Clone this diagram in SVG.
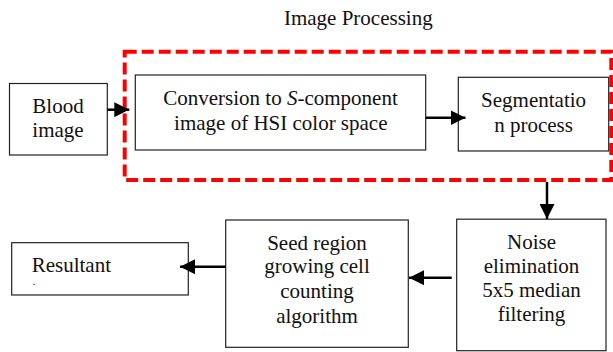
<svg xmlns="http://www.w3.org/2000/svg" width="613" height="352" viewBox="0 0 613 352">
<style>
.box{fill:#fff;stroke:#222;stroke-width:1.2}
.t{font-family:"Liberation Serif","Times New Roman",serif;font-size:21px;fill:#111;text-anchor:middle}
.c{stroke:#000;stroke-width:2.5;fill:none;marker-end:url(#ah)}
</style>
<defs>
<marker id="ah" markerUnits="userSpaceOnUse" markerWidth="15" markerHeight="15" refX="15" refY="7.5" orient="auto">
<path d="M0,0 L15,7.5 L0,15 z" fill="#000"/>
</marker>
</defs>
<rect width="613" height="352" fill="#fff"/>
<g id="group-image-processing">
<rect x="124.7" y="51.7" width="486.6" height="128.3" fill="none" stroke="#ff0000" stroke-width="4" stroke-dasharray="12 5"/>
<text class="t" x="358.3" y="25">Image Processing</text>
</g>
<g id="blood">
<rect class="box" x="9.5" y="83.5" width="97.8" height="71.5"/>
<text class="t" x="58" y="112.7">Blood</text>
<text class="t" x="58" y="136.7">image</text>
</g>
<g id="conversion">
<rect class="box" x="135.3" y="75" width="290.4" height="75"/>
<text class="t" x="280.5" y="105">Conversion to <tspan font-style="italic">S</tspan>-component</text>
<text class="t" x="280.8" y="130">image of HSI color space</text>
</g>
<g id="segmentation">
<rect class="box" x="458.3" y="77.3" width="150.4" height="73.7"/>
<text class="t" x="533.6" y="106.7">Segmentatio</text>
<text class="t" x="533.6" y="132.3">n process</text>
</g>
<g id="noise">
<rect class="box" x="456.7" y="219.2" width="149.3" height="131.5"/>
<text class="t" x="531.5" y="249.3">Noise</text>
<text class="t" x="531.5" y="273.3">elimination</text>
<text class="t" x="531.5" y="297.3">5x5 median</text>
<text class="t" x="531.5" y="320.7">filtering</text>
</g>
<g id="seed">
<rect class="box" x="225.7" y="220" width="182.6" height="127.3"/>
<text class="t" x="317" y="250">Seed region</text>
<text class="t" x="317" y="273.3">growing cell</text>
<text class="t" x="317" y="298.3">counting</text>
<text class="t" x="317" y="322.7">algorithm</text>
</g>
<g id="resultant">
<rect class="box" x="11.7" y="242.7" width="176.6" height="52.3"/>
<text class="t" x="31.7" y="271.7" style="text-anchor:start">Resultant</text>
<text class="t" x="33" y="284.5" style="text-anchor:start;font-size:8px;font-weight:bold">.</text>
</g>
<g id="connectors">
<line class="c" x1="107.3" y1="109.7" x2="129.3" y2="109.7"/>
<line class="c" x1="425.7" y1="117.7" x2="465.5" y2="117.7"/>
<line class="c" x1="547" y1="182" x2="547" y2="219"/>
<line class="c" x1="451.7" y1="277.7" x2="409" y2="277.7"/>
<line class="c" x1="225.7" y1="266.7" x2="180" y2="266.7"/>
</g>
</svg>
